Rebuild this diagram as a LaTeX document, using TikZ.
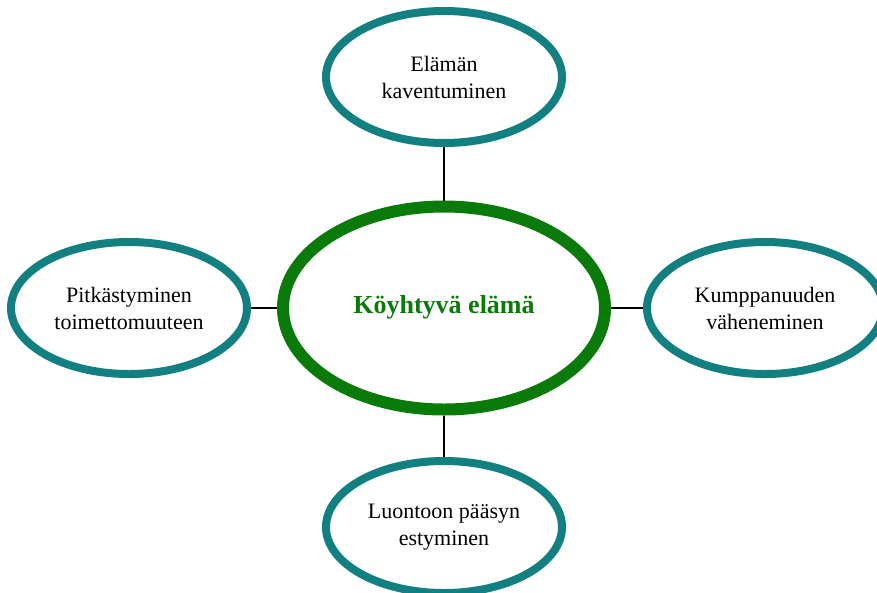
\documentclass[tikz,border=0pt]{standalone}
\usepackage{fontspec}
\setmainfont{Liberation Serif}
\usetikzlibrary{shapes.geometric,backgrounds}
\definecolor{tealring}{RGB}{18,128,128}
\definecolor{greenring}{RGB}{10,122,10}
\tikzset{
  sat/.style={ellipse, draw=tealring, line width=8pt, fill=white,
    minimum width=236pt, minimum height=132pt, inner sep=0pt, align=center,
    font=\fontsize{22}{27}\selectfont},
  hub/.style={ellipse, draw=greenring, line width=12pt, fill=white,
    minimum width=322pt, minimum height=203pt, inner sep=0pt, align=center,
    text=greenring, font=\fontsize{26}{30}\selectfont\bfseries},
  link/.style={draw=black, line width=2.6pt}
}
\begin{document}
\begin{tikzpicture}[x=1pt,y=-1pt]
\useasboundingbox (0,0) rectangle (877,592);
\node[hub] (c) at (444,308) {\raisebox{7pt}{Köyhtyvä elämä}};
\node[sat] (t) at (444,77) {Elämän\\kaventuminen};
\node[sat] (l) at (129,308) {Pitkästyminen\\toimettomuuteen};
\node[sat] (r) at (765,308) {Kumppanuuden\\väheneminen};
\node[sat] (b) at (444,527) {Luontoon pääsyn\\estyminen};
\begin{scope}[on background layer]
\draw[link] (t.south) -- (c.north);
\draw[link] (b.north) -- (c.south);
\draw[link] (l.east) -- (c.west);
\draw[link] (r.west) -- (c.east);
\end{scope}
\end{tikzpicture}
\end{document}
